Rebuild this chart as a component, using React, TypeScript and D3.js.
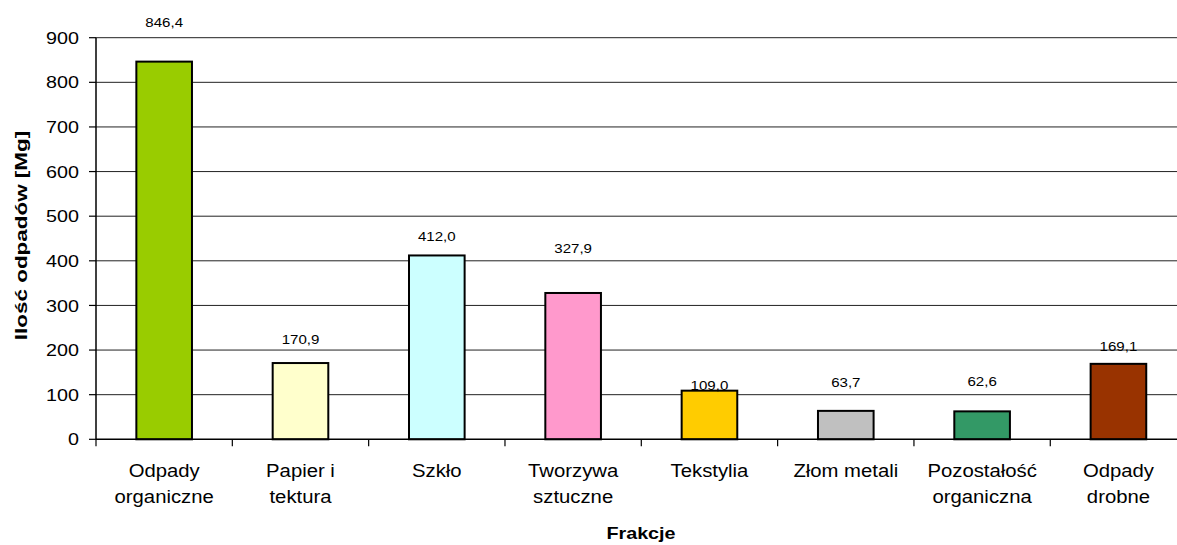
import React from "react";
import * as d3 from "d3";

const categories: string[][] = [
  ["Odpady", "organiczne"],
  ["Papier i", "tektura"],
  ["Szkło"],
  ["Tworzywa", "sztuczne"],
  ["Tekstylia"],
  ["Złom metali"],
  ["Pozostałość", "organiczna"],
  ["Odpady", "drobne"],
];
const values: number[] = [846.4, 170.9, 412.0, 327.9, 109.0, 63.7, 62.6, 169.1];
const colors: string[] = ["#99CC00", "#FFFFCC", "#CCFFFF", "#FF99CC", "#FFCC00", "#C0C0C0", "#339966", "#993300"];
const yTicks: number[] = [0, 100, 200, 300, 400, 500, 600, 700, 800, 900];
// gap (px) between bar top and value-label baseline, as placed in the original
const labelGap: number[] = [35, 19, 14, 40, 1, 24, 25, 13];

const W = 1177;
const H = 545;
const left = 96;
const right = 1186.6;
const top = 37.7;
const bottom = 439.3;
const SX = 1.16;
const FONT = "Arial, 'Liberation Sans', sans-serif";

function T({ x, y, children, anchor = "middle", size = 17, weight = "normal", dy = 0 }: any) {
  return (
    <text
      transform={`translate(${x},${y}) scale(${SX},1)`}
      textAnchor={anchor}
      fontSize={size}
      fontWeight={weight}
      fontFamily={FONT}
      dy={dy}
      fill="#000"
    >
      {children}
    </text>
  );
}

export default function App() {
  const idx = categories.map((_, i) => String(i));
  const x = d3.scaleBand<string>().domain(idx).range([left, right]).padding(0);
  const y = d3.scaleLinear().domain([0, 900]).range([bottom, top]);
  const step = x.step();
  const barW = step * 0.408;

  return (
    <svg width={W} height={H} style={{ position: "absolute", left: 0, top: 0, background: "#fff" }}>
      <rect x={0} y={0} width={W} height={H} fill="#fff" />
      {yTicks.filter((t) => t > 0).map((t) => (
        <line key={t} x1={left} x2={right} y1={y(t)} y2={y(t)} stroke="#222" strokeWidth={1} />
      ))}
      {values.map((v, i) => {
        const cx = (x(String(i)) as number) + step / 2;
        return (
          <rect
            key={i}
            x={cx - barW / 2}
            y={y(v)}
            width={barW}
            height={y(0) - y(v)}
            fill={colors[i]}
            stroke="#000"
            strokeWidth={2}
          />
        );
      })}
      {values.map((v, i) => {
        const cx = (x(String(i)) as number) + step / 2;
        return (
          <T key={i} x={cx} y={y(v) - labelGap[i]} size={13}>
            {d3.format(".1f")(v).replace(".", ",")}
          </T>
        );
      })}
      <line x1={left} x2={left} y1={top} y2={bottom} stroke="#000" strokeWidth={1.5} />
      <line x1={left} x2={right} y1={bottom} y2={bottom} stroke="#000" strokeWidth={1.5} />
      {yTicks.map((t) => (
        <g key={t}>
          <line x1={left - 7} x2={left} y1={y(t)} y2={y(t)} stroke="#000" strokeWidth={1.2} />
          <T x={79} y={y(t)} anchor="end" size={17} dy="0.36em">
            {t}
          </T>
        </g>
      ))}
      {idx.concat([String(categories.length)]).map((k, i) => {
        const px = left + i * step;
        return <line key={k} x1={px} x2={px} y1={bottom} y2={bottom + 7} stroke="#000" strokeWidth={1.2} />;
      })}
      {categories.map((lines, i) => {
        const cx = (x(String(i)) as number) + step / 2;
        return lines.map((ln, j) => (
          <T key={`${i}-${j}`} x={cx} y={476.7 + j * 26.5} size={17.5}>
            {ln}
          </T>
        ));
      })}
      <T x={641} y={539} size={17} weight="bold">
        Frakcje
      </T>
      <text
        transform={`translate(27,${(top + bottom) / 2 - 3}) rotate(-90) scale(1.36,1)`}
        textAnchor="middle"
        fontSize={16.5}
        fontWeight="bold"
        fontFamily={FONT}
        fill="#000"
      >
        Ilość odpadów [Mg]
      </text>
    </svg>
  );
}
